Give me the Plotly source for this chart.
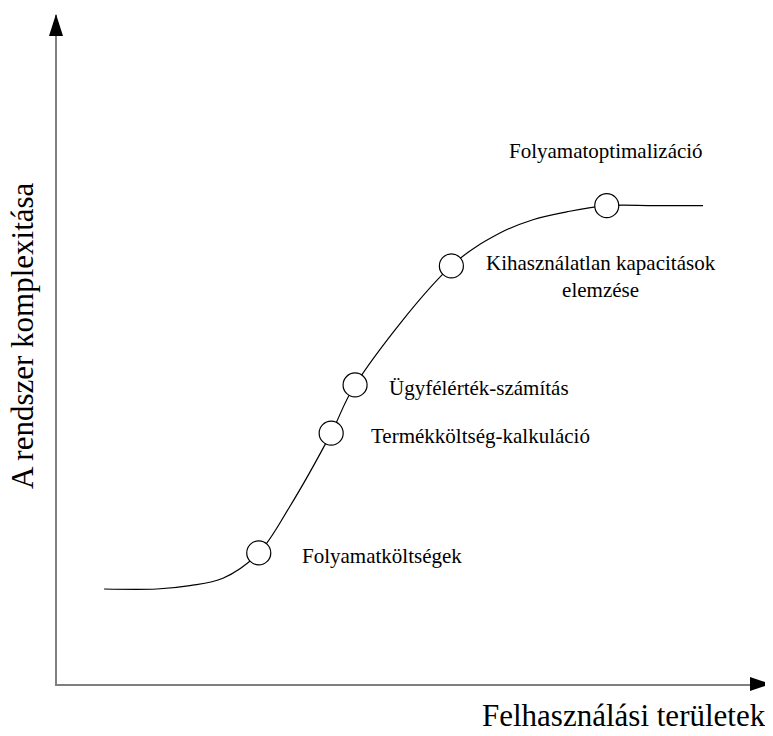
import plotly.graph_objects as go

# S-curve of system complexity vs. application areas (abstract units 0-100)
curve_x = [6.7, 14.2, 18.9, 23.6, 28.7, 33.1, 39.0, 42.4, 56.1, 63.0, 67.7, 72.6, 78.2, 85.0, 91.9]
curve_y = [14.2, 14.2, 14.7, 15.8, 19.6, 26.5, 37.5, 44.7, 62.5, 67.4, 69.4, 70.6, 71.5, 71.5, 71.5]

# milestone stages on the curve
stage_x = [28.7, 39.0, 42.4, 56.1, 78.2]
stage_y = [19.6, 37.5, 44.7, 62.5, 71.5]
stage_labels = [
    "Folyamatköltségek",
    "Termékköltség-kalkuláció",
    "Ügyfélérték-számítás",
    "Kihasználatlan kapacitások<br>elemzése",
    "Folyamatoptimalizáció",
]

x_title = "Felhasználási területek"
y_title = "A rendszer komplexitása"

FONT = "Liberation Serif, Times New Roman, serif"

fig = go.Figure()
fig.add_trace(go.Scatter(
    x=curve_x, y=curve_y, mode="lines",
    line=dict(color="black", width=1.2, shape="spline", smoothing=1.0),
    hoverinfo="skip", showlegend=False,
))
fig.add_trace(go.Scatter(
    x=stage_x, y=stage_y, mode="markers",
    marker=dict(size=24, color="white", line=dict(color="black", width=1.2)),
    text=stage_labels, hoverinfo="text", showlegend=False,
))

# label placement (pixel offsets relative to each stage point)
label_style = [
    dict(xanchor="left", xshift=41, yshift=-3),
    dict(xanchor="left", xshift=38, yshift=-3),
    dict(xanchor="left", xshift=32, yshift=-3),
    dict(xanchor="center", xshift=150, yshift=-11),
    dict(xanchor="center", xshift=-1, yshift=55),
]
for sx, sy, lab, st in zip(stage_x, stage_y, stage_labels, label_style):
    fig.add_annotation(
        x=sx, y=sy, xref="x", yref="y", text=lab, showarrow=False,
        yanchor="middle", align="center",
        font=dict(family=FONT, size=21, color="black"), **st,
    )

# axis titles
fig.add_annotation(
    x=1.0, y=-0.047, xref="paper", yref="paper", text=x_title, showarrow=False,
    xanchor="right", yanchor="middle", xshift=8,
    font=dict(family=FONT, size=31, color="black"),
)
fig.add_annotation(
    x=0, y=0.52, xref="paper", yref="paper", text=y_title, showarrow=False,
    textangle=-90, xanchor="center", yanchor="middle", xshift=-35,
    font=dict(family=FONT, size=31, color="black"),
)

# the page body adds an 8px offset, so the figure is sized to fit the window
W, H = 765, 728
ML, MR, MT, MB = 49, 13, 7, 52
PW, PH = W - ML - MR, H - MT - MB

# arrowheads (paper coordinates)
def px(dx):
    return dx / PW

def py(dy):
    return dy / PH

fig.add_shape(type="path", xref="paper", yref="paper",
              path=f"M {px(-8)},{py(648)} L {px(-1)},{py(670)} L {px(6)},{py(648)} Z",
              fillcolor="black", line=dict(color="black", width=0))
fig.add_shape(type="path", xref="paper", yref="paper",
              path=f"M {px(693)},{py(7)} L {px(714)},{py(0)} L {px(693)},{py(-7)} Z",
              fillcolor="black", line=dict(color="black", width=0))

axis_common = dict(
    showgrid=False, zeroline=False, showticklabels=False, ticks="",
    showline=True, linecolor="#7f7f7f", linewidth=2, mirror=False, fixedrange=True,
)
fig.update_layout(
    width=W, height=H,
    margin=dict(l=ML, r=MR, t=MT, b=MB),
    paper_bgcolor="white", plot_bgcolor="white",
    xaxis=dict(range=[0, 100], **axis_common),
    yaxis=dict(range=[0, 100], **axis_common),
    showlegend=False,
)

fig.write_html("out.html")
